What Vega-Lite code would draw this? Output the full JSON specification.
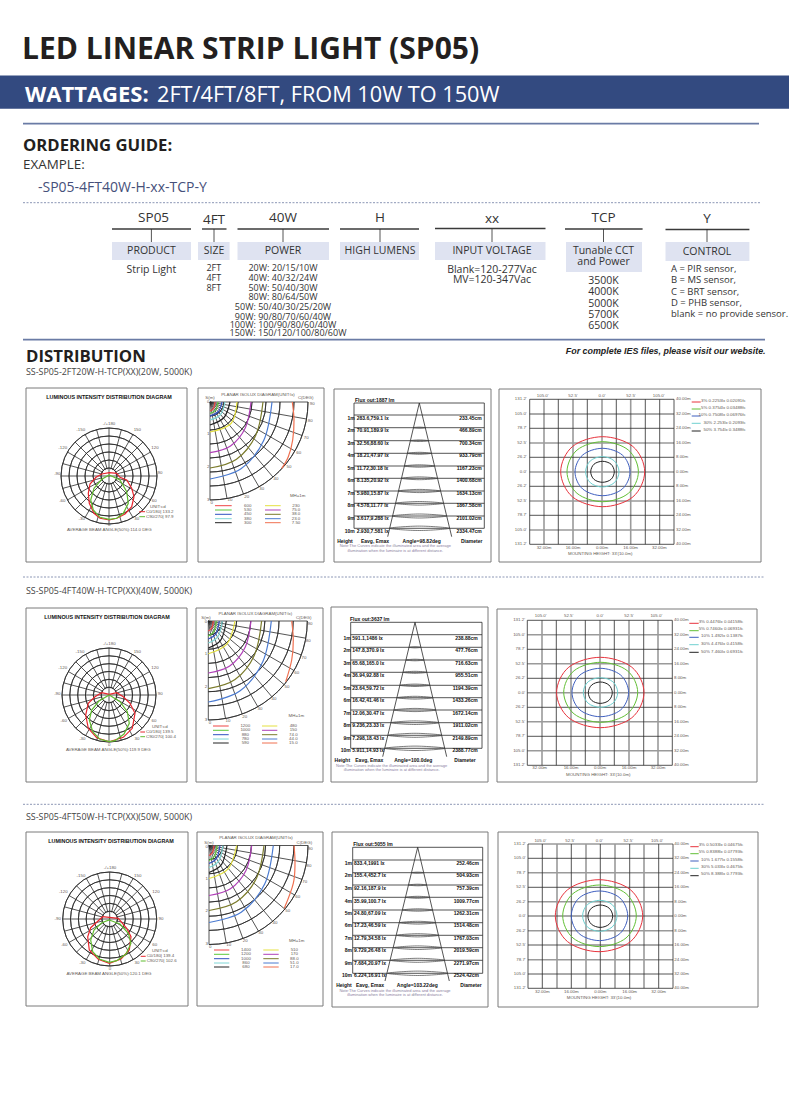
{"$schema":"https://vega.github.io/schema/vega-lite/v6.json","width":789,"height":1120,"autosize":{"type":"fit","contains":"padding"},"padding":0,"background":"white","config":{"view":{"stroke":null}},
"encoding":{"x":{"field":"x","type":"quantitative","axis":null,"scale":{"domain":[0,789],"nice":false,"zero":false}},"y":{"field":"y","type":"quantitative","axis":null,"scale":{"domain":[1120,0],"nice":false,"zero":false}}},
"layer":[
{"data":{"values":[{"x":0,"y":75.5,"x2":789,"y2":108.7}]},"mark":{"type":"rect","fill":"#334a80"},"encoding":{"x2":{"field":"x2"},"y2":{"field":"y2"}}},
{"data":{"values":[{"x":112,"y":242,"x2":191,"y2":260},{"x":198,"y":242,"x2":229.6,"y2":260},{"x":237.5,"y":242,"x2":329,"y2":260},{"x":340,"y":242,"x2":419,"y2":260},{"x":435,"y":242,"x2":545.5,"y2":260},{"x":566,"y":242,"x2":642,"y2":272},{"x":665.5,"y":242,"x2":749.4,"y2":261}]},"mark":{"type":"rect","fill":"#dfe3f1"},"encoding":{"x2":{"field":"x2"},"y2":{"field":"y2"}}},
{"data":{"values":[{"x":26,"y":388,"x2":187,"y2":562},{"x":198,"y":388,"x2":324,"y2":562},{"x":334,"y":389,"x2":491,"y2":562},{"x":499,"y":389,"x2":761,"y2":562},{"x":26,"y":608,"x2":187,"y2":782},{"x":196,"y":608,"x2":323,"y2":782},{"x":331,"y":607,"x2":488,"y2":782},{"x":497,"y":609,"x2":757,"y2":782},{"x":26,"y":832,"x2":188,"y2":1006},{"x":197,"y":832,"x2":323,"y2":1006},{"x":332,"y":832,"x2":488,"y2":1007},{"x":498,"y":832,"x2":758,"y2":1007}]},"mark":{"type":"rect","fill":"transparent","stroke":"#7a7a7a","strokeWidth":1},"encoding":{"x2":{"field":"x2"},"y2":{"field":"y2"}}},
{"data":{"values":[{"x":23,"y":123.7,"x2":759},{"x":23,"y":339.7,"x2":765}]},"mark":{"type":"rule","stroke":"#6a7ba5","strokeWidth":1.8},"encoding":{"x2":{"field":"x2"}}},
{"data":{"values":[{"x":23,"y":202.7,"x2":760},{"x":23,"y":577,"x2":765},{"x":23,"y":804.3,"x2":765}]},"mark":{"type":"rule","stroke":"#8c97b5","strokeWidth":1,"strokeDash":[2,1.5]},"encoding":{"x2":{"field":"x2"}}},
{"data":{"values":[{"x":112,"y":229,"x2":191},{"x":202,"y":229,"x2":226.5},{"x":237.5,"y":229,"x2":329},{"x":340,"y":229,"x2":419},{"x":435,"y":228.5,"x2":545.5},{"x":565,"y":229,"x2":642.6},{"x":665.5,"y":229.5,"x2":749.4}]},"mark":{"type":"rule","stroke":"#3a3a3a","strokeWidth":1.4},"encoding":{"x2":{"field":"x2"}}},
{"data":{"values":[{"x":544,"y":399.3,"x2":544,"y2":544.3},{"x":573,"y":399.3,"x2":573,"y2":544.3},{"x":602,"y":399.3,"x2":602,"y2":544.3},{"x":630.7,"y":399.3,"x2":630.7,"y2":544.3},{"x":529.7,"y":443,"x2":674,"y2":443},{"x":529.7,"y":472,"x2":674,"y2":472},{"x":529.7,"y":501,"x2":674,"y2":501},{"x":529.7,"y":530,"x2":674,"y2":530},{"x":542,"y":620.3,"x2":542,"y2":765.3},{"x":571,"y":620.3,"x2":571,"y2":765.3},{"x":600,"y":620.3,"x2":600,"y2":765.3},{"x":629,"y":620.3,"x2":629,"y2":765.3},{"x":658,"y":620.3,"x2":658,"y2":765.3},{"x":527.3,"y":634.7,"x2":672.3,"y2":634.7},{"x":527.3,"y":663.7,"x2":672.3,"y2":663.7},{"x":527.3,"y":692.7,"x2":672.3,"y2":692.7},{"x":527.3,"y":721.7,"x2":672.3,"y2":721.7},{"x":527.3,"y":750.7,"x2":672.3,"y2":750.7},{"x":557,"y":844,"x2":557,"y2":988.3},{"x":586,"y":844,"x2":586,"y2":988.3},{"x":615,"y":844,"x2":615,"y2":988.3},{"x":644,"y":844,"x2":644,"y2":988.3},{"x":528,"y":844,"x2":673,"y2":844},{"x":528,"y":872.7,"x2":673,"y2":872.7},{"x":528,"y":901.7,"x2":673,"y2":901.7},{"x":528,"y":930.7,"x2":673,"y2":930.7},{"x":528,"y":959.7,"x2":673,"y2":959.7}]},"mark":{"type":"rule","stroke":"#9a9a9a","strokeWidth":1.6},"encoding":{"x2":{"field":"x2"},"y2":{"field":"y2"}}},
{"data":{"values":[
{"x":151.4,"y":229,"x2":151.4,"y2":242},{"x":214,"y":229,"x2":214,"y2":242},{"x":283,"y":229,"x2":283,"y2":242},{"x":380,"y":229,"x2":380,"y2":242},{"x":492,"y":229,"x2":492,"y2":242},{"x":603.5,"y":229,"x2":603.5,"y2":242},{"x":707,"y":229,"x2":707,"y2":242},
{"x":96.6,"y":429.6,"x2":121.4,"y2":522.4},{"x":85,"y":434.4,"x2":133,"y2":517.6},{"x":75.1,"y":442.1,"x2":142.9,"y2":509.9},{"x":67.4,"y":452,"x2":150.6,"y2":500},{"x":62.6,"y":463.6,"x2":155.4,"y2":488.4},{"x":121.4,"y":429.6,"x2":96.6,"y2":522.4},{"x":133,"y":434.4,"x2":85,"y2":517.6},{"x":142.9,"y":442.1,"x2":75.1,"y2":509.9},{"x":150.6,"y":452,"x2":67.4,"y2":500},{"x":155.4,"y":463.6,"x2":62.6,"y2":488.4},
{"x":96.8,"y":649.6,"x2":121.2,"y2":740.4},{"x":85.5,"y":654.3,"x2":132.5,"y2":735.7},{"x":75.8,"y":661.8,"x2":142.2,"y2":728.2},{"x":68.3,"y":671.5,"x2":149.7,"y2":718.5},{"x":63.6,"y":682.8,"x2":154.4,"y2":707.2},{"x":121.2,"y":649.6,"x2":96.8,"y2":740.4},{"x":132.5,"y":654.3,"x2":85.5,"y2":735.7},{"x":142.2,"y":661.8,"x2":75.8,"y2":728.2},{"x":149.7,"y":671.5,"x2":68.3,"y2":718.5},{"x":154.4,"y":682.8,"x2":63.6,"y2":707.2},
{"x":97.5,"y":873.6,"x2":121.9,"y2":964.4},{"x":86.2,"y":878.3,"x2":133.2,"y2":959.7},{"x":76.5,"y":885.8,"x2":142.9,"y2":952.2},{"x":69,"y":895.5,"x2":150.4,"y2":942.5},{"x":64.3,"y":906.8,"x2":155.1,"y2":931.2},{"x":121.9,"y":873.6,"x2":97.5,"y2":964.4},{"x":133.2,"y":878.3,"x2":86.2,"y2":959.7},{"x":142.9,"y":885.8,"x2":76.5,"y2":952.2},{"x":150.4,"y":895.5,"x2":69,"y2":942.5},{"x":155.1,"y":906.8,"x2":64.3,"y2":931.2}
]},"mark":{"type":"rule","stroke":"#2a2a2a","strokeWidth":0.8},"encoding":{"x2":{"field":"x2"},"y2":{"field":"y2"}}},
{"data":{"values":[{"x":109,"y":476},{"x":109,"y":695},{"x":109.7,"y":919}]},"mark":{"type":"point","filled":true,"fill":"white","stroke":null,"opacity":1,"size":200},"encoding":{}},
{"data":{"values":[
{"x":109,"y":476,"r":8},{"x":109,"y":476,"r":16},{"x":109,"y":476,"r":24},{"x":109,"y":476,"r":32},{"x":109,"y":476,"r":40},{"x":109,"y":476,"r":48},
{"x":109,"y":695,"r":7.8},{"x":109,"y":695,"r":15.7},{"x":109,"y":695,"r":23.5},{"x":109,"y":695,"r":31.3},{"x":109,"y":695,"r":39.2},{"x":109,"y":695,"r":47},
{"x":109.7,"y":919,"r":7.8},{"x":109.7,"y":919,"r":15.7},{"x":109.7,"y":919,"r":23.5},{"x":109.7,"y":919,"r":31.3},{"x":109.7,"y":919,"r":39.2},{"x":109.7,"y":919,"r":47}
]},"mark":{"type":"arc","theta":0,"theta2":6.2832,"fill":"transparent","stroke":"#2a2a2a","strokeWidth":0.8},"encoding":{"radius":{"field":"r","type":"quantitative","scale":{"type":"linear","domain":[0,100],"range":[0,100]}},"radius2":{"field":"r"}}},
{"data":{"values":[
{"x":210,"y":402,"r":14},{"x":210,"y":402,"r":28},{"x":210,"y":402,"r":42},{"x":210,"y":402,"r":56},{"x":210,"y":402,"r":70},{"x":210,"y":402,"r":84},{"x":210,"y":402,"r":98},
{"x":208.3,"y":621,"r":14.1},{"x":208.3,"y":621,"r":28.3},{"x":208.3,"y":621,"r":42.4},{"x":208.3,"y":621,"r":56.6},{"x":208.3,"y":621,"r":70.7},{"x":208.3,"y":621,"r":84.9},{"x":208.3,"y":621,"r":99},
{"x":209,"y":845.5,"r":14.1},{"x":209,"y":845.5,"r":28.3},{"x":209,"y":845.5,"r":42.4},{"x":209,"y":845.5,"r":56.6},{"x":209,"y":845.5,"r":70.7},{"x":209,"y":845.5,"r":84.9},{"x":209,"y":845.5,"r":99}
]},"mark":{"type":"arc","theta":1.5708,"theta2":3.1416,"fill":"transparent","stroke":"#2a2a2a","strokeWidth":0.8},"encoding":{"radius":{"field":"r","type":"quantitative","scale":{"type":"linear","domain":[0,100],"range":[0,100]}},"radius2":{"field":"r"}}},
{"data":{"values":[
{"x":61,"y":476,"x2":157,"y2":476},{"x":109,"y":428,"x2":109,"y2":524},{"x":62,"y":695,"x2":156,"y2":695},{"x":109,"y":648,"x2":109,"y2":742},{"x":62.7,"y":919,"x2":156.7,"y2":919},{"x":109.7,"y":872,"x2":109.7,"y2":966},
{"x":210,"y":402,"x2":210,"y2":500},{"x":210,"y":402,"x2":227,"y2":498.5},{"x":210,"y":402,"x2":243.5,"y2":494.1},{"x":210,"y":402,"x2":259,"y2":486.9},{"x":210,"y":402,"x2":273,"y2":477.1},{"x":210,"y":402,"x2":285.1,"y2":465},{"x":210,"y":402,"x2":294.9,"y2":451},{"x":210,"y":402,"x2":302.1,"y2":435.5},{"x":210,"y":402,"x2":306.5,"y2":419},{"x":210,"y":402,"x2":308,"y2":402},
{"x":208.3,"y":621,"x2":208.3,"y2":720},{"x":208.3,"y":621,"x2":225.5,"y2":718.5},{"x":208.3,"y":621,"x2":242.2,"y2":714},{"x":208.3,"y":621,"x2":257.8,"y2":706.7},{"x":208.3,"y":621,"x2":271.9,"y2":696.8},{"x":208.3,"y":621,"x2":284.1,"y2":684.6},{"x":208.3,"y":621,"x2":294,"y2":670.5},{"x":208.3,"y":621,"x2":301.2,"y2":654.9},{"x":208.3,"y":621,"x2":305.8,"y2":638.2},{"x":208.3,"y":621,"x2":307.3,"y2":621},
{"x":209,"y":845.5,"x2":209,"y2":944.5},{"x":209,"y":845.5,"x2":226.2,"y2":943},{"x":209,"y":845.5,"x2":242.9,"y2":938.5},{"x":209,"y":845.5,"x2":258.5,"y2":931.2},{"x":209,"y":845.5,"x2":272.6,"y2":921.3},{"x":209,"y":845.5,"x2":284.8,"y2":909.1},{"x":209,"y":845.5,"x2":294.7,"y2":895},{"x":209,"y":845.5,"x2":302,"y2":879.4},{"x":209,"y":845.5,"x2":306.5,"y2":862.7},{"x":209,"y":845.5,"x2":308,"y2":845.5},
{"x":354,"y":403,"x2":484.3,"y2":403},{"x":354,"y":415,"x2":484.3,"y2":415},{"x":354,"y":427.7,"x2":484.3,"y2":427.7},{"x":354,"y":440.7,"x2":484.3,"y2":440.7},{"x":354,"y":453.3,"x2":484.3,"y2":453.3},{"x":354,"y":466,"x2":484.3,"y2":466},{"x":354,"y":478.3,"x2":484.3,"y2":478.3},{"x":354,"y":491,"x2":484.3,"y2":491},{"x":354,"y":503.3,"x2":484.3,"y2":503.3},{"x":354,"y":516,"x2":484.3,"y2":516},{"x":354,"y":528.3,"x2":484.3,"y2":528.3},{"x":354,"y":403,"x2":354,"y2":528.3},{"x":484.3,"y":403,"x2":484.3,"y2":528.3},{"x":419.3,"y":403,"x2":387.7,"y2":536.7},{"x":419.3,"y":403,"x2":451.7,"y2":536.7},
{"x":350.7,"y":622.3,"x2":482,"y2":622.3},{"x":350.7,"y":634.7,"x2":482,"y2":634.7},{"x":350.7,"y":647.3,"x2":482,"y2":647.3},{"x":350.7,"y":660,"x2":482,"y2":660},{"x":350.7,"y":672.3,"x2":482,"y2":672.3},{"x":350.7,"y":685.3,"x2":482,"y2":685.3},{"x":350.7,"y":697.7,"x2":482,"y2":697.7},{"x":350.7,"y":710,"x2":482,"y2":710},{"x":350.7,"y":722.7,"x2":482,"y2":722.7},{"x":350.7,"y":735.3,"x2":482,"y2":735.3},{"x":350.7,"y":748.3,"x2":482,"y2":748.3},{"x":350.7,"y":622.3,"x2":350.7,"y2":748.3},{"x":482,"y":622.3,"x2":482,"y2":748.3},{"x":415,"y":622.3,"x2":382.7,"y2":756.7},{"x":415,"y":622.3,"x2":446.7,"y2":756.7},
{"x":352.7,"y":847.3,"x2":482.7,"y2":847.3},{"x":352.7,"y":860,"x2":482.7,"y2":860},{"x":352.7,"y":872.7,"x2":482.7,"y2":872.7},{"x":352.7,"y":885,"x2":482.7,"y2":885},{"x":352.7,"y":897.3,"x2":482.7,"y2":897.3},{"x":352.7,"y":910,"x2":482.7,"y2":910},{"x":352.7,"y":922.7,"x2":482.7,"y2":922.7},{"x":352.7,"y":935.3,"x2":482.7,"y2":935.3},{"x":352.7,"y":947.7,"x2":482.7,"y2":947.7},{"x":352.7,"y":960.3,"x2":482.7,"y2":960.3},{"x":352.7,"y":973.3,"x2":482.7,"y2":973.3},{"x":352.7,"y":847.3,"x2":352.7,"y2":973.3},{"x":482.7,"y":847.3,"x2":482.7,"y2":973.3},{"x":417.7,"y":847.3,"x2":385,"y2":981},{"x":417.7,"y":847.3,"x2":449.3,"y2":981},
{"x":529.7,"y":399.3,"x2":529.7,"y2":544.3},{"x":558.3,"y":399.3,"x2":558.3,"y2":544.3},{"x":587.3,"y":399.3,"x2":587.3,"y2":544.3},{"x":616.3,"y":399.3,"x2":616.3,"y2":544.3},{"x":645.3,"y":399.3,"x2":645.3,"y2":544.3},{"x":659.7,"y":399.3,"x2":659.7,"y2":544.3},{"x":674,"y":399.3,"x2":674,"y2":544.3},{"x":529.7,"y":399.3,"x2":674,"y2":399.3},{"x":529.7,"y":414,"x2":674,"y2":414},{"x":529.7,"y":428.3,"x2":674,"y2":428.3},{"x":529.7,"y":457.3,"x2":674,"y2":457.3},{"x":529.7,"y":486.3,"x2":674,"y2":486.3},{"x":529.7,"y":515.3,"x2":674,"y2":515.3},{"x":529.7,"y":544.3,"x2":674,"y2":544.3},
{"x":527.3,"y":620.3,"x2":527.3,"y2":765.3},{"x":556.3,"y":620.3,"x2":556.3,"y2":765.3},{"x":585.3,"y":620.3,"x2":585.3,"y2":765.3},{"x":614.3,"y":620.3,"x2":614.3,"y2":765.3},{"x":643.7,"y":620.3,"x2":643.7,"y2":765.3},{"x":672.3,"y":620.3,"x2":672.3,"y2":765.3},{"x":527.3,"y":620.3,"x2":672.3,"y2":620.3},{"x":527.3,"y":649.3,"x2":672.3,"y2":649.3},{"x":527.3,"y":678.3,"x2":672.3,"y2":678.3},{"x":527.3,"y":707.3,"x2":672.3,"y2":707.3},{"x":527.3,"y":736.3,"x2":672.3,"y2":736.3},{"x":527.3,"y":765.3,"x2":672.3,"y2":765.3},
{"x":528,"y":844,"x2":528,"y2":988.3},{"x":542.3,"y":844,"x2":542.3,"y2":988.3},{"x":571.3,"y":844,"x2":571.3,"y2":988.3},{"x":600.3,"y":844,"x2":600.3,"y2":988.3},{"x":629.7,"y":844,"x2":629.7,"y2":988.3},{"x":658.7,"y":844,"x2":658.7,"y2":988.3},{"x":673,"y":844,"x2":673,"y2":988.3},{"x":528,"y":858.3,"x2":673,"y2":858.3},{"x":528,"y":887.3,"x2":673,"y2":887.3},{"x":528,"y":916,"x2":673,"y2":916},{"x":528,"y":945,"x2":673,"y2":945},{"x":528,"y":974,"x2":673,"y2":974},{"x":528,"y":988.3,"x2":673,"y2":988.3}
]},"mark":{"type":"rule","stroke":"#2a2a2a","strokeWidth":0.8},"encoding":{"x2":{"field":"x2"},"y2":{"field":"y2"}}},
{"data":{"values":[
{"id":"a2","x":413.3,"y":427.7},{"id":"a2","x":419.3,"y":427.1},{"id":"a2","x":425.3,"y":427.7},{"id":"a2","x":419.3,"y":428.3},
{"id":"a3","x":410.3,"y":440.7},{"id":"a3","x":419.3,"y":439.9},{"id":"a3","x":428.3,"y":440.7},{"id":"a3","x":419.3,"y":441.5},
{"id":"a4","x":407.3,"y":453.3},{"id":"a4","x":419.3,"y":452.3},{"id":"a4","x":431.3,"y":453.3},{"id":"a4","x":419.3,"y":454.3},
{"id":"a5","x":404.3,"y":466},{"id":"a5","x":419.3,"y":464.8},{"id":"a5","x":434.3,"y":466},{"id":"a5","x":419.3,"y":467.2},
{"id":"a6","x":401.3,"y":478.3},{"id":"a6","x":419.3,"y":476.9},{"id":"a6","x":437.3,"y":478.3},{"id":"a6","x":419.3,"y":479.7},
{"id":"a7","x":398.3,"y":491},{"id":"a7","x":419.3,"y":489.4},{"id":"a7","x":440.3,"y":491},{"id":"a7","x":419.3,"y":492.6},
{"id":"a8","x":395.3,"y":503.3},{"id":"a8","x":419.3,"y":501.5},{"id":"a8","x":443.3,"y":503.3},{"id":"a8","x":419.3,"y":505.1},
{"id":"a9","x":392.3,"y":516},{"id":"a9","x":419.3,"y":514},{"id":"a9","x":446.3,"y":516},{"id":"a9","x":419.3,"y":518},
{"id":"a10","x":389.3,"y":528.3},{"id":"a10","x":419.3,"y":526.1},{"id":"a10","x":449.3,"y":528.3},{"id":"a10","x":419.3,"y":530.5},
{"id":"b2","x":409,"y":647.3},{"id":"b2","x":415,"y":646.7},{"id":"b2","x":421,"y":647.3},{"id":"b2","x":415,"y":647.9},
{"id":"b3","x":406,"y":660},{"id":"b3","x":415,"y":659.2},{"id":"b3","x":424,"y":660},{"id":"b3","x":415,"y":660.8},
{"id":"b4","x":403,"y":672.3},{"id":"b4","x":415,"y":671.3},{"id":"b4","x":427,"y":672.3},{"id":"b4","x":415,"y":673.3},
{"id":"b5","x":400,"y":685.3},{"id":"b5","x":415,"y":684.1},{"id":"b5","x":430,"y":685.3},{"id":"b5","x":415,"y":686.5},
{"id":"b6","x":397,"y":697.7},{"id":"b6","x":415,"y":696.3},{"id":"b6","x":433,"y":697.7},{"id":"b6","x":415,"y":699.1},
{"id":"b7","x":394,"y":710},{"id":"b7","x":415,"y":708.4},{"id":"b7","x":436,"y":710},{"id":"b7","x":415,"y":711.6},
{"id":"b8","x":391,"y":722.7},{"id":"b8","x":415,"y":720.9},{"id":"b8","x":439,"y":722.7},{"id":"b8","x":415,"y":724.5},
{"id":"b9","x":388,"y":735.3},{"id":"b9","x":415,"y":733.3},{"id":"b9","x":442,"y":735.3},{"id":"b9","x":415,"y":737.3},
{"id":"b10","x":385,"y":748.3},{"id":"b10","x":415,"y":746.1},{"id":"b10","x":445,"y":748.3},{"id":"b10","x":415,"y":750.5},
{"id":"c2","x":411.7,"y":872.7},{"id":"c2","x":417.7,"y":872.1},{"id":"c2","x":423.7,"y":872.7},{"id":"c2","x":417.7,"y":873.3},
{"id":"c3","x":408.7,"y":885},{"id":"c3","x":417.7,"y":884.2},{"id":"c3","x":426.7,"y":885},{"id":"c3","x":417.7,"y":885.8},
{"id":"c4","x":405.7,"y":897.3},{"id":"c4","x":417.7,"y":896.3},{"id":"c4","x":429.7,"y":897.3},{"id":"c4","x":417.7,"y":898.3},
{"id":"c5","x":402.7,"y":910},{"id":"c5","x":417.7,"y":908.8},{"id":"c5","x":432.7,"y":910},{"id":"c5","x":417.7,"y":911.2},
{"id":"c6","x":399.7,"y":922.7},{"id":"c6","x":417.7,"y":921.3},{"id":"c6","x":435.7,"y":922.7},{"id":"c6","x":417.7,"y":924.1},
{"id":"c7","x":396.7,"y":935.3},{"id":"c7","x":417.7,"y":933.7},{"id":"c7","x":438.7,"y":935.3},{"id":"c7","x":417.7,"y":936.9},
{"id":"c8","x":393.7,"y":947.7},{"id":"c8","x":417.7,"y":945.9},{"id":"c8","x":441.7,"y":947.7},{"id":"c8","x":417.7,"y":949.5},
{"id":"c9","x":390.7,"y":960.3},{"id":"c9","x":417.7,"y":958.3},{"id":"c9","x":444.7,"y":960.3},{"id":"c9","x":417.7,"y":962.3},
{"id":"c10","x":387.7,"y":973.3},{"id":"c10","x":417.7,"y":971.1},{"id":"c10","x":447.7,"y":973.3},{"id":"c10","x":417.7,"y":975.5}
]},"mark":{"type":"line","interpolate":"cardinal-closed","stroke":"#444444","strokeWidth":0.7},"encoding":{"detail":{"field":"id"},"order":{"value":null}}},
{"data":{"values":[
{"id":"p1r","s":"C0/180","x":109.3,"y":472.7},{"id":"p1r","s":"C0/180","x":116.7,"y":473.3},{"id":"p1r","s":"C0/180","x":120,"y":477.3},{"id":"p1r","s":"C0/180","x":126.7,"y":480},{"id":"p1r","s":"C0/180","x":131.7,"y":488.3},{"id":"p1r","s":"C0/180","x":134,"y":496.7},{"id":"p1r","s":"C0/180","x":131.7,"y":506.7},{"id":"p1r","s":"C0/180","x":125,"y":514},{"id":"p1r","s":"C0/180","x":116.7,"y":518.3},{"id":"p1r","s":"C0/180","x":109.3,"y":520},{"id":"p1r","s":"C0/180","x":100,"y":518.3},{"id":"p1r","s":"C0/180","x":94,"y":513.3},{"id":"p1r","s":"C0/180","x":89.3,"y":503.3},{"id":"p1r","s":"C0/180","x":88.3,"y":493.3},{"id":"p1r","s":"C0/180","x":90,"y":484},{"id":"p1r","s":"C0/180","x":96,"y":477.3},{"id":"p1r","s":"C0/180","x":101.7,"y":474},
{"id":"p1g","s":"C90/270","x":109.3,"y":475},{"id":"p1g","s":"C90/270","x":120,"y":480},{"id":"p1g","s":"C90/270","x":126.7,"y":491.7},{"id":"p1g","s":"C90/270","x":128.3,"y":503.3},{"id":"p1g","s":"C90/270","x":123.3,"y":513.3},{"id":"p1g","s":"C90/270","x":116.7,"y":518.3},{"id":"p1g","s":"C90/270","x":109.3,"y":519.3},{"id":"p1g","s":"C90/270","x":100,"y":517.3},{"id":"p1g","s":"C90/270","x":93.3,"y":510},{"id":"p1g","s":"C90/270","x":90.7,"y":500},{"id":"p1g","s":"C90/270","x":94,"y":488.3},{"id":"p1g","s":"C90/270","x":101.7,"y":479.3},
{"id":"p2r","s":"C0/180","x":109.3,"y":694.3},{"id":"p2r","s":"C0/180","x":116.7,"y":692.7},{"id":"p2r","s":"C0/180","x":123.3,"y":696.7},{"id":"p2r","s":"C0/180","x":130,"y":703.3},{"id":"p2r","s":"C0/180","x":135,"y":713.3},{"id":"p2r","s":"C0/180","x":132.3,"y":728.3},{"id":"p2r","s":"C0/180","x":123.3,"y":737.3},{"id":"p2r","s":"C0/180","x":109.3,"y":741.7},{"id":"p2r","s":"C0/180","x":96.7,"y":737.7},{"id":"p2r","s":"C0/180","x":88.3,"y":728.3},{"id":"p2r","s":"C0/180","x":85.7,"y":715},{"id":"p2r","s":"C0/180","x":88.3,"y":703.3},{"id":"p2r","s":"C0/180","x":95,"y":696.7},{"id":"p2r","s":"C0/180","x":101.7,"y":692.7},
{"id":"p2g","s":"C90/270","x":109.3,"y":695},{"id":"p2g","s":"C90/270","x":120,"y":701.7},{"id":"p2g","s":"C90/270","x":127.3,"y":711.7},{"id":"p2g","s":"C90/270","x":129.3,"y":723.3},{"id":"p2g","s":"C90/270","x":124,"y":734},{"id":"p2g","s":"C90/270","x":115,"y":740.7},{"id":"p2g","s":"C90/270","x":109.3,"y":741.7},{"id":"p2g","s":"C90/270","x":100,"y":739.3},{"id":"p2g","s":"C90/270","x":92.7,"y":731.7},{"id":"p2g","s":"C90/270","x":89.3,"y":720},{"id":"p2g","s":"C90/270","x":91.7,"y":710},{"id":"p2g","s":"C90/270","x":99.3,"y":700.7},
{"id":"p3r","s":"C0/180","x":109.3,"y":917.3},{"id":"p3r","s":"C0/180","x":118.3,"y":918.3},{"id":"p3r","s":"C0/180","x":126.7,"y":928.3},{"id":"p3r","s":"C0/180","x":131,"y":936.7},{"id":"p3r","s":"C0/180","x":129.3,"y":950},{"id":"p3r","s":"C0/180","x":121,"y":959},{"id":"p3r","s":"C0/180","x":109.3,"y":963.3},{"id":"p3r","s":"C0/180","x":98.3,"y":959.3},{"id":"p3r","s":"C0/180","x":89.3,"y":950},{"id":"p3r","s":"C0/180","x":87.7,"y":936.7},{"id":"p3r","s":"C0/180","x":90.7,"y":927.7},{"id":"p3r","s":"C0/180","x":98.3,"y":920.7},{"id":"p3r","s":"C0/180","x":102.7,"y":916.7},
{"id":"p3g","s":"C90/270","x":109.3,"y":920},{"id":"p3g","s":"C90/270","x":120,"y":924},{"id":"p3g","s":"C90/270","x":128.3,"y":933.3},{"id":"p3g","s":"C90/270","x":131,"y":943.3},{"id":"p3g","s":"C90/270","x":126,"y":954},{"id":"p3g","s":"C90/270","x":116.7,"y":960.7},{"id":"p3g","s":"C90/270","x":109.3,"y":962.3},{"id":"p3g","s":"C90/270","x":100,"y":959.3},{"id":"p3g","s":"C90/270","x":92.7,"y":951.7},{"id":"p3g","s":"C90/270","x":90.7,"y":940},{"id":"p3g","s":"C90/270","x":94,"y":930},{"id":"p3g","s":"C90/270","x":101.7,"y":922.7}
]},"mark":{"type":"line","interpolate":"linear-closed","strokeWidth":1.2},"encoding":{"detail":{"field":"id"},"order":{"value":null},"color":{"field":"s","type":"nominal","legend":null,"scale":{"domain":["C0/180","C90/270","3%","5%","10%","30%","50%","L1","L2","L3","L4","L5","L6","L7","L8","L9","L10"],"range":["#e8252d","#5fbb2e","#e8333d","#62bf35","#3f5fbf","#6fd0d0","#222222","#ef4444","#5cc83a","#2f50c0","#7fd6d6","#222222","#e4e040","#b040b8","#7a7a2a","#4a7ad0","#f07050"]}}}},
{"data":{"values":[
{"id":"i1a","s":"3%","x":644.7,"y":471.7},{"id":"i1a","s":"3%","x":632.9,"y":496.9},{"id":"i1a","s":"3%","x":602.7,"y":506.7},{"id":"i1a","s":"3%","x":572.5,"y":496.9},{"id":"i1a","s":"3%","x":560.7,"y":471.7},{"id":"i1a","s":"3%","x":572.5,"y":446.5},{"id":"i1a","s":"3%","x":602.7,"y":436.7},{"id":"i1a","s":"3%","x":632.9,"y":446.5},
{"id":"i1b","s":"5%","x":638.4,"y":471.7},{"id":"i1b","s":"5%","x":628.4,"y":493.3},{"id":"i1b","s":"5%","x":602.7,"y":501.7},{"id":"i1b","s":"5%","x":577,"y":493.3},{"id":"i1b","s":"5%","x":567,"y":471.7},{"id":"i1b","s":"5%","x":577,"y":450.1},{"id":"i1b","s":"5%","x":602.7,"y":441.7},{"id":"i1b","s":"5%","x":628.4,"y":450.1},
{"id":"i1c","s":"10%","x":630,"y":472},{"id":"i1c","s":"10%","x":622.3,"y":489},{"id":"i1c","s":"10%","x":602.5,"y":495.7},{"id":"i1c","s":"10%","x":582.7,"y":489},{"id":"i1c","s":"10%","x":575,"y":472},{"id":"i1c","s":"10%","x":582.7,"y":455},{"id":"i1c","s":"10%","x":602.5,"y":448.3},{"id":"i1c","s":"10%","x":622.3,"y":455},
{"id":"i1d","s":"30%","x":619,"y":471.8},{"id":"i1d","s":"30%","x":614.3,"y":482.7},{"id":"i1d","s":"30%","x":602.3,"y":487},{"id":"i1d","s":"30%","x":590.3,"y":482.7},{"id":"i1d","s":"30%","x":585.6,"y":471.8},{"id":"i1d","s":"30%","x":590.3,"y":460.9},{"id":"i1d","s":"30%","x":602.3,"y":456.6},{"id":"i1d","s":"30%","x":614.3,"y":460.9},
{"id":"i1e","s":"50%","x":614.3,"y":471.8},{"id":"i1e","s":"50%","x":611,"y":479.4},{"id":"i1e","s":"50%","x":602.5,"y":482.3},{"id":"i1e","s":"50%","x":594,"y":479.4},{"id":"i1e","s":"50%","x":590.7,"y":471.8},{"id":"i1e","s":"50%","x":594,"y":464.2},{"id":"i1e","s":"50%","x":602.5,"y":461.3},{"id":"i1e","s":"50%","x":611,"y":464.2},
{"id":"i2a","s":"3%","x":644,"y":692.5},{"id":"i2a","s":"3%","x":631.8,"y":717.8},{"id":"i2a","s":"3%","x":600.3,"y":727.7},{"id":"i2a","s":"3%","x":568.8,"y":717.8},{"id":"i2a","s":"3%","x":556.6,"y":692.5},{"id":"i2a","s":"3%","x":568.8,"y":667.2},{"id":"i2a","s":"3%","x":600.3,"y":657.3},{"id":"i2a","s":"3%","x":631.8,"y":667.2},
{"id":"i2b","s":"5%","x":637.7,"y":692.3},{"id":"i2b","s":"5%","x":627.3,"y":713.9},{"id":"i2b","s":"5%","x":600.7,"y":722.3},{"id":"i2b","s":"5%","x":574.1,"y":713.9},{"id":"i2b","s":"5%","x":563.7,"y":692.3},{"id":"i2b","s":"5%","x":574.1,"y":670.7},{"id":"i2b","s":"5%","x":600.7,"y":662.3},{"id":"i2b","s":"5%","x":627.3,"y":670.7},
{"id":"i2c","s":"10%","x":628.6,"y":692.5},{"id":"i2c","s":"10%","x":620.7,"y":709.9},{"id":"i2c","s":"10%","x":600.3,"y":716.7},{"id":"i2c","s":"10%","x":579.9,"y":709.9},{"id":"i2c","s":"10%","x":572,"y":692.5},{"id":"i2c","s":"10%","x":579.9,"y":675.1},{"id":"i2c","s":"10%","x":600.3,"y":668.3},{"id":"i2c","s":"10%","x":620.7,"y":675.1},
{"id":"i2d","s":"30%","x":617.7,"y":692.5},{"id":"i2d","s":"30%","x":612.9,"y":703.2},{"id":"i2d","s":"30%","x":600.5,"y":707.3},{"id":"i2d","s":"30%","x":588.1,"y":703.2},{"id":"i2d","s":"30%","x":583.3,"y":692.5},{"id":"i2d","s":"30%","x":588.1,"y":681.8},{"id":"i2d","s":"30%","x":600.5,"y":677.7},{"id":"i2d","s":"30%","x":612.9,"y":681.8},
{"id":"i2e","s":"50%","x":612.3,"y":692.7},{"id":"i2e","s":"50%","x":608.9,"y":700.4},{"id":"i2e","s":"50%","x":600.3,"y":703.4},{"id":"i2e","s":"50%","x":591.7,"y":700.4},{"id":"i2e","s":"50%","x":588.3,"y":692.7},{"id":"i2e","s":"50%","x":591.7,"y":685},{"id":"i2e","s":"50%","x":600.3,"y":682},{"id":"i2e","s":"50%","x":608.9,"y":685},
{"id":"i3a","s":"3%","x":642.7,"y":915.7},{"id":"i3a","s":"3%","x":630.5,"y":941.6},{"id":"i3a","s":"3%","x":599,"y":951.7},{"id":"i3a","s":"3%","x":567.5,"y":941.6},{"id":"i3a","s":"3%","x":555.3,"y":915.7},{"id":"i3a","s":"3%","x":567.5,"y":889.8},{"id":"i3a","s":"3%","x":599,"y":879.7},{"id":"i3a","s":"3%","x":630.5,"y":889.8},
{"id":"i3b","s":"5%","x":636.3,"y":915.8},{"id":"i3b","s":"5%","x":626,"y":938},{"id":"i3b","s":"5%","x":599.5,"y":946.6},{"id":"i3b","s":"5%","x":573,"y":938},{"id":"i3b","s":"5%","x":562.7,"y":915.8},{"id":"i3b","s":"5%","x":573,"y":893.6},{"id":"i3b","s":"5%","x":599.5,"y":885},{"id":"i3b","s":"5%","x":626,"y":893.6},
{"id":"i3c","s":"10%","x":627.7,"y":915.8},{"id":"i3c","s":"10%","x":619.8,"y":933.7},{"id":"i3c","s":"10%","x":599.5,"y":940.6},{"id":"i3c","s":"10%","x":579.2,"y":933.7},{"id":"i3c","s":"10%","x":571.3,"y":915.8},{"id":"i3c","s":"10%","x":579.2,"y":897.9},{"id":"i3c","s":"10%","x":599.5,"y":891},{"id":"i3c","s":"10%","x":619.8,"y":897.9},
{"id":"i3d","s":"30%","x":617,"y":915.8},{"id":"i3d","s":"30%","x":612.2,"y":927},{"id":"i3d","s":"30%","x":599.8,"y":931.3},{"id":"i3d","s":"30%","x":587.4,"y":927},{"id":"i3d","s":"30%","x":582.6,"y":915.8},{"id":"i3d","s":"30%","x":587.4,"y":904.6},{"id":"i3d","s":"30%","x":599.8,"y":900.3},{"id":"i3d","s":"30%","x":612.2,"y":904.6},
{"id":"i3e","s":"50%","x":612.7,"y":916.2},{"id":"i3e","s":"50%","x":609.2,"y":924.2},{"id":"i3e","s":"50%","x":600.3,"y":927.4},{"id":"i3e","s":"50%","x":591.4,"y":924.2},{"id":"i3e","s":"50%","x":587.9,"y":916.2},{"id":"i3e","s":"50%","x":591.4,"y":908.2},{"id":"i3e","s":"50%","x":600.3,"y":905},{"id":"i3e","s":"50%","x":609.2,"y":908.2}
]},"mark":{"type":"line","interpolate":"cardinal-closed","strokeWidth":1},"encoding":{"detail":{"field":"id"},"order":{"value":null},"color":{"field":"s","type":"nominal","legend":null,"scale":{"domain":["C0/180","C90/270","3%","5%","10%","30%","50%","L1","L2","L3","L4","L5","L6","L7","L8","L9","L10"],"range":["#e8252d","#5fbb2e","#e8333d","#62bf35","#3f5fbf","#6fd0d0","#222222","#ef4444","#5cc83a","#2f50c0","#7fd6d6","#222222","#e4e040","#b040b8","#7a7a2a","#4a7ad0","#f07050"]}}}},
{"data":{"values":[
{"id":"q1a","s":"L1","x":215,"y":402},{"id":"q1a","s":"L1","x":213.5,"y":408.5},{"id":"q1a","s":"L1","x":210,"y":411},
{"id":"q1b","s":"L2","x":218,"y":402},{"id":"q1b","s":"L2","x":215.7,"y":410},{"id":"q1b","s":"L2","x":210,"y":413.5},
{"id":"q1c","s":"L3","x":222,"y":402},{"id":"q1c","s":"L3","x":218.5,"y":411.5},{"id":"q1c","s":"L3","x":210,"y":416},
{"id":"q1d","s":"L4","x":225,"y":402},{"id":"q1d","s":"L4","x":220.6,"y":414.5},{"id":"q1d","s":"L4","x":210,"y":420},
{"id":"q1e","s":"L5","x":230,"y":402},{"id":"q1e","s":"L5","x":224,"y":417.5},{"id":"q1e","s":"L5","x":210,"y":425},
{"id":"q1f","s":"L6","x":237,"y":402},{"id":"q1f","s":"L6","x":231,"y":423.5},{"id":"q1f","s":"L6","x":210,"y":432},
{"id":"q1g","s":"L7","x":251,"y":402},{"id":"q1g","s":"L7","x":245.5,"y":427.4},{"id":"q1g","s":"L7","x":230.5,"y":445.9},{"id":"q1g","s":"L7","x":210,"y":452.7},
{"id":"q1h","s":"L8","x":263,"y":402},{"id":"q1h","s":"L8","x":255.9,"y":435},{"id":"q1h","s":"L8","x":236.5,"y":459.2},{"id":"q1h","s":"L8","x":210,"y":468},
{"id":"q1i","s":"L9","x":272,"y":402},{"id":"q1i","s":"L9","x":263.7,"y":440.5},{"id":"q1i","s":"L9","x":241,"y":468.7},{"id":"q1i","s":"L9","x":210,"y":479},
{"id":"q1j","s":"L10","x":292.3,"y":402},{"id":"q1j","s":"L10","x":294,"y":420},{"id":"q1j","s":"L10","x":292.7,"y":440},{"id":"q1j","s":"L10","x":288.3,"y":456.7},{"id":"q1j","s":"L10","x":281.7,"y":468.3},
{"id":"q2a","s":"L1","x":213.3,"y":621},{"id":"q2a","s":"L1","x":211.8,"y":628},{"id":"q2a","s":"L1","x":208.3,"y":631},
{"id":"q2b","s":"L2","x":216.3,"y":621},{"id":"q2b","s":"L2","x":213.9,"y":631.5},{"id":"q2b","s":"L2","x":208.3,"y":636},
{"id":"q2c","s":"L3","x":219.3,"y":621},{"id":"q2c","s":"L3","x":216,"y":633.6},{"id":"q2c","s":"L3","x":208.3,"y":639},
{"id":"q2d","s":"L4","x":222.3,"y":621},{"id":"q2d","s":"L4","x":218.1,"y":636.4},{"id":"q2d","s":"L4","x":208.3,"y":643},
{"id":"q2e","s":"L5","x":226.3,"y":621},{"id":"q2e","s":"L5","x":220.9,"y":639.9},{"id":"q2e","s":"L5","x":208.3,"y":648},
{"id":"q2f","s":"L6","x":235,"y":621},{"id":"q2f","s":"L6","x":227,"y":643.9},{"id":"q2f","s":"L6","x":208.3,"y":653.7},
{"id":"q2g","s":"L7","x":251,"y":621},{"id":"q2g","s":"L7","x":245.3,"y":647},{"id":"q2g","s":"L7","x":229.7,"y":666},{"id":"q2g","s":"L7","x":208.3,"y":673},
{"id":"q2h","s":"L8","x":261.6,"y":621},{"id":"q2h","s":"L8","x":254.5,"y":654.9},{"id":"q2h","s":"L8","x":235,"y":679.6},{"id":"q2h","s":"L8","x":208.3,"y":688.7},
{"id":"q2i","s":"L9","x":271.3,"y":621},{"id":"q2i","s":"L9","x":262.9,"y":661.5},{"id":"q2i","s":"L9","x":239.8,"y":691.1},{"id":"q2i","s":"L9","x":208.3,"y":702},
{"id":"q2j","s":"L10","x":291.7,"y":621},{"id":"q2j","s":"L10","x":293.3,"y":640},{"id":"q2j","s":"L10","x":291.7,"y":660},{"id":"q2j","s":"L10","x":285.7,"y":681.7},
{"id":"q3a","s":"L1","x":214,"y":845.5},{"id":"q3a","s":"L1","x":212.5,"y":852.5},{"id":"q3a","s":"L1","x":209,"y":855.5},
{"id":"q3b","s":"L2","x":217,"y":845.5},{"id":"q3b","s":"L2","x":214.6,"y":856},{"id":"q3b","s":"L2","x":209,"y":860.5},
{"id":"q3c","s":"L3","x":220,"y":845.5},{"id":"q3c","s":"L3","x":216.7,"y":858.1},{"id":"q3c","s":"L3","x":209,"y":863.5},
{"id":"q3d","s":"L4","x":223,"y":845.5},{"id":"q3d","s":"L4","x":218.8,"y":860.9},{"id":"q3d","s":"L4","x":209,"y":867.5},
{"id":"q3e","s":"L5","x":227,"y":845.5},{"id":"q3e","s":"L5","x":221.6,"y":864.4},{"id":"q3e","s":"L5","x":209,"y":872.5},
{"id":"q3f","s":"L6","x":236.7,"y":845.5},{"id":"q3f","s":"L6","x":228.4,"y":868.6},{"id":"q3f","s":"L6","x":209,"y":878.5},
{"id":"q3g","s":"L7","x":251.7,"y":845.5},{"id":"q3g","s":"L7","x":246,"y":870.5},{"id":"q3g","s":"L7","x":230.4,"y":888.8},{"id":"q3g","s":"L7","x":209,"y":895.5},
{"id":"q3h","s":"L8","x":264,"y":845.5},{"id":"q3h","s":"L8","x":256.6,"y":878},{"id":"q3h","s":"L8","x":236.5,"y":901.8},{"id":"q3h","s":"L8","x":209,"y":910.5},
{"id":"q3i","s":"L9","x":273.3,"y":845.5},{"id":"q3i","s":"L9","x":264.7,"y":884},{"id":"q3i","s":"L9","x":241.2,"y":912.2},{"id":"q3i","s":"L9","x":209,"y":922.5},
{"id":"q3j","s":"L10","x":294,"y":845.5},{"id":"q3j","s":"L10","x":295,"y":863.3},{"id":"q3j","s":"L10","x":293.3,"y":883.3},{"id":"q3j","s":"L10","x":284.3,"y":908.3}
]},"mark":{"type":"line","interpolate":"cardinal","strokeWidth":1.2},"encoding":{"detail":{"field":"id"},"order":{"value":null},"color":{"field":"s","type":"nominal","legend":null,"scale":{"domain":["C0/180","C90/270","3%","5%","10%","30%","50%","L1","L2","L3","L4","L5","L6","L7","L8","L9","L10"],"range":["#e8252d","#5fbb2e","#e8333d","#62bf35","#3f5fbf","#6fd0d0","#222222","#ef4444","#5cc83a","#2f50c0","#7fd6d6","#222222","#e4e040","#b040b8","#7a7a2a","#4a7ad0","#f07050"]}}}},
{"data":{"values":[
{"s":"C0/180","x":139.3,"y":511.7,"x2":145},{"s":"C90/270","x":139.3,"y":516.7,"x2":145},{"s":"C0/180","x":140.3,"y":732,"x2":145},{"s":"C90/270","x":140.3,"y":736.7,"x2":145},{"s":"C0/180","x":140.7,"y":956.3,"x2":145.7},{"s":"C90/270","x":140.7,"y":961,"x2":145.7},
{"s":"L1","x":215,"y":505.7,"x2":231.7},{"s":"L2","x":215,"y":510,"x2":231.7},{"s":"L3","x":215,"y":514.3,"x2":231.7},{"s":"L4","x":215,"y":518.7,"x2":231.7},{"s":"L5","x":215,"y":522.7,"x2":231.7},{"s":"L6","x":265,"y":505.7,"x2":280.7},{"s":"L7","x":265,"y":510,"x2":280.7},{"s":"L8","x":265,"y":514.3,"x2":280.7},{"s":"L9","x":265,"y":518.7,"x2":280.7},{"s":"L10","x":265,"y":522.7,"x2":280.7},
{"s":"L1","x":213,"y":726,"x2":228.7},{"s":"L2","x":213,"y":730.3,"x2":228.7},{"s":"L3","x":213,"y":734.7,"x2":228.7},{"s":"L4","x":213,"y":739,"x2":228.7},{"s":"L5","x":213,"y":743,"x2":228.7},{"s":"L6","x":262,"y":726,"x2":277.3},{"s":"L7","x":262,"y":730.3,"x2":277.3},{"s":"L8","x":262,"y":734.7,"x2":277.3},{"s":"L9","x":262,"y":739,"x2":277.3},{"s":"L10","x":262,"y":743,"x2":277.3},
{"s":"L1","x":214,"y":950,"x2":229.3},{"s":"L2","x":214,"y":954.3,"x2":229.3},{"s":"L3","x":214,"y":958.7,"x2":229.3},{"s":"L4","x":214,"y":963,"x2":229.3},{"s":"L5","x":214,"y":967,"x2":229.3},{"s":"L6","x":263.3,"y":950,"x2":278.7},{"s":"L7","x":263.3,"y":954.3,"x2":278.7},{"s":"L8","x":263.3,"y":958.7,"x2":278.7},{"s":"L9","x":263.3,"y":963,"x2":278.7},{"s":"L10","x":263.3,"y":967,"x2":278.7},
{"s":"3%","x":691.7,"y":402,"x2":700.7},{"s":"5%","x":691.7,"y":409,"x2":700.7},{"s":"10%","x":691.7,"y":416,"x2":700.7},{"s":"30%","x":691.7,"y":423.3,"x2":700.7},{"s":"50%","x":691.7,"y":431,"x2":700.7},
{"s":"3%","x":689.3,"y":623.3,"x2":698.7},{"s":"5%","x":689.3,"y":630.7,"x2":698.7},{"s":"10%","x":689.3,"y":637.3,"x2":698.7},{"s":"30%","x":689.3,"y":644.7,"x2":698.7},{"s":"50%","x":689.3,"y":652.3,"x2":698.7},
{"s":"3%","x":690.3,"y":846.7,"x2":698.7},{"s":"5%","x":690.3,"y":853.7,"x2":698.7},{"s":"10%","x":690.3,"y":861,"x2":698.7},{"s":"30%","x":690.3,"y":868.3,"x2":698.7},{"s":"50%","x":690.3,"y":875.7,"x2":698.7}
]},"mark":{"type":"rule","strokeWidth":1},"encoding":{"x2":{"field":"x2"},"color":{"field":"s","type":"nominal","legend":null,"scale":{"domain":["C0/180","C90/270","3%","5%","10%","30%","50%","L1","L2","L3","L4","L5","L6","L7","L8","L9","L10"],"range":["#e8252d","#5fbb2e","#e8333d","#62bf35","#3f5fbf","#6fd0d0","#222222","#ef4444","#5cc83a","#2f50c0","#7fd6d6","#222222","#e4e040","#b040b8","#7a7a2a","#4a7ad0","#f07050"]}}}},
{"data":{"values":[{"t":"LED LINEAR STRIP LIGHT (SP05)","x":22,"y":50}]},"mark":{"type":"text","align":"left","baseline":"middle","font":"Open Sans","fontWeight":700,"fontSize":30,"fill":"#231f20"},"encoding":{"text":{"field":"t"}}},
{"data":{"values":[{"t":"WATTAGES:","x":25,"y":94.5}]},"mark":{"type":"text","align":"left","baseline":"middle","font":"Open Sans","fontWeight":700,"fontSize":22,"fill":"white"},"encoding":{"text":{"field":"t"}}},
{"data":{"values":[{"t":"2FT/4FT/8FT, FROM 10W TO 150W","x":157,"y":94.5}]},"mark":{"type":"text","align":"left","baseline":"middle","font":"Open Sans","fontSize":21.7,"fill":"white"},"encoding":{"text":{"field":"t"}}},
{"data":{"values":[{"t":"ORDERING GUIDE:","x":23,"y":146}]},"mark":{"type":"text","align":"left","baseline":"middle","font":"Open Sans","fontWeight":700,"fontSize":16.7,"fill":"#231f20"},"encoding":{"text":{"field":"t"}}},
{"data":{"values":[{"t":"EXAMPLE:","x":23,"y":165}]},"mark":{"type":"text","align":"left","baseline":"middle","font":"Open Sans","fontSize":13.4,"fill":"#333333"},"encoding":{"text":{"field":"t"}}},
{"data":{"values":[{"t":"-SP05-4FT40W-H-xx-TCP-Y","x":38,"y":187.5}]},"mark":{"type":"text","align":"left","baseline":"middle","font":"Open Sans","fontSize":14,"fill":"#46507a"},"encoding":{"text":{"field":"t"}}},
{"data":{"values":[{"t":"SP05","x":153.6,"y":218},{"t":"4FT","x":214,"y":220},{"t":"40W","x":283,"y":218},{"t":"H","x":380,"y":218},{"t":"xx","x":492,"y":219},{"t":"TCP","x":603.5,"y":218},{"t":"Y","x":707,"y":219}]},"mark":{"type":"text","align":"center","baseline":"middle","font":"Open Sans","fontSize":13.5,"fill":"#333333"},"encoding":{"text":{"field":"t"}}},
{"data":{"values":[{"t":"PRODUCT","x":151.4,"y":250.5},{"t":"SIZE","x":214,"y":250.5},{"t":"POWER","x":283,"y":250.5},{"t":"HIGH LUMENS","x":380,"y":250.5},{"t":"INPUT VOLTAGE","x":492,"y":250.5},{"t":"Tunable CCT","x":603.5,"y":250.5},{"t":"and Power","x":603.5,"y":262},{"t":"CONTROL","x":707,"y":251.5},{"t":"Strip Light","x":151.4,"y":269.5},{"t":"Blank=120-277Vac","x":492,"y":269.7},{"t":"MV=120-347Vac","x":492,"y":280.3},{"t":"3500K","x":603.5,"y":281.3},{"t":"4000K","x":603.5,"y":292.3},{"t":"5000K","x":603.5,"y":304},{"t":"5700K","x":603.5,"y":315},{"t":"6500K","x":603.5,"y":326.3}]},"mark":{"type":"text","align":"center","baseline":"middle","font":"Open Sans","fontSize":10.5,"fill":"#333333"},"encoding":{"text":{"field":"t"}}},
{"data":{"values":[{"t":"2FT","x":213.8,"y":268},{"t":"4FT","x":213.8,"y":277.7},{"t":"8FT","x":213.8,"y":288},{"t":"20W: 20/15/10W","x":283,"y":268.3},{"t":"40W: 40/32/24W","x":283,"y":277.7},{"t":"50W: 50/40/30W","x":283,"y":287.7},{"t":"80W: 80/64/50W","x":283,"y":297.3},{"t":"50W: 50/40/30/25/20W","x":283,"y":306.7},{"t":"90W: 90/80/70/60/40W","x":283,"y":316.7},{"t":"100W: 100/90/80/60/40W","x":283,"y":325},{"t":"150W: 150/120/100/80/60W","x":288,"y":333.3}]},"mark":{"type":"text","align":"center","baseline":"middle","font":"Open Sans","fontSize":9,"fill":"#333333"},"encoding":{"text":{"field":"t"}}},
{"data":{"values":[{"t":"A = PIR sensor,","x":671,"y":269},{"t":"B = MS sensor,","x":671,"y":280},{"t":"C = BRT sensor,","x":671,"y":291.7},{"t":"D = PHB sensor,","x":671,"y":302.7},{"t":"blank = no provide sensor.","x":671,"y":314}]},"mark":{"type":"text","align":"left","baseline":"middle","font":"Open Sans","fontSize":9.5,"fill":"#333333"},"encoding":{"text":{"field":"t"}}},
{"data":{"values":[{"t":"DISTRIBUTION","x":26,"y":357}]},"mark":{"type":"text","align":"left","baseline":"middle","font":"Open Sans","fontWeight":700,"fontSize":16.8,"fill":"#231f20"},"encoding":{"text":{"field":"t"}}},
{"data":{"values":[{"t":"For complete IES files, please visit our website.","x":765.6,"y":351.3}]},"mark":{"type":"text","align":"right","baseline":"middle","font":"Liberation Sans","fontWeight":700,"fontStyle":"italic","fontSize":8.9,"fill":"#222222"},"encoding":{"text":{"field":"t"}}},
{"data":{"values":[{"t":"SS-SP05-2FT20W-H-TCP(XX)(20W, 5000K)","x":26,"y":372},{"t":"SS-SP05-4FT40W-H-TCP(XX)(40W, 5000K)","x":26,"y":591},{"t":"SS-SP05-4FT50W-H-TCP(XX)(50W, 5000K)","x":26,"y":817}]},"mark":{"type":"text","align":"left","baseline":"middle","font":"Open Sans","fontSize":8.9,"fill":"#444444"},"encoding":{"text":{"field":"t"}}},
{"data":{"values":[{"t":"LUMINOUS INTENSITY DISTRIBUTION DIAGRAM","x":109,"y":396.5},{"t":"LUMINOUS INTENSITY DISTRIBUTION DIAGRAM","x":107,"y":617},{"t":"LUMINOUS INTENSITY DISTRIBUTION DIAGRAM","x":111,"y":841}]},"mark":{"type":"text","align":"center","baseline":"middle","font":"Liberation Sans","fontWeight":700,"fontSize":5.4,"fill":"#111111"},"encoding":{"text":{"field":"t"}}},
{"data":{"values":[
{"t":"-/+180","x":109,"y":424.3},{"t":"-150","x":80.7,"y":430},{"t":"150","x":137.3,"y":430},{"t":"-120","x":62.7,"y":448.3},{"t":"120","x":155,"y":448.3},{"t":"-90","x":57.3,"y":474.3},{"t":"90","x":160,"y":473.3},{"t":"-60","x":62.3,"y":501.3},{"t":"60","x":154.3,"y":501.3},{"t":"-30","x":81.7,"y":519.3},{"t":"30","x":136.7,"y":519.3},{"t":"0","x":109.3,"y":525},{"t":"AVERAGE BEAM ANGLE(50%):114.0 DEG","x":109.3,"y":529.5},
{"t":"-/+180","x":109.3,"y":644},{"t":"-150","x":80,"y":651.7},{"t":"150","x":137.3,"y":651.7},{"t":"-120","x":62.7,"y":668.3},{"t":"120","x":155,"y":668.3},{"t":"-90","x":57.3,"y":694.3},{"t":"90","x":160.3,"y":694.3},{"t":"-60","x":63.7,"y":721.3},{"t":"60","x":154,"y":721.3},{"t":"-30","x":82.3,"y":739},{"t":"30","x":137,"y":739},{"t":"0","x":109.3,"y":744.5},{"t":"AVERAGE BEAM ANGLE(50%):119.9 DEG","x":108.3,"y":749.5},
{"t":"-/+180","x":110,"y":868.3},{"t":"-150","x":81,"y":875.7},{"t":"150","x":137.7,"y":875.7},{"t":"-120","x":63.3,"y":892.3},{"t":"120","x":156,"y":892.3},{"t":"-90","x":57.7,"y":918.7},{"t":"90","x":161,"y":918.7},{"t":"-60","x":64.3,"y":945.3},{"t":"60","x":154.7,"y":945.3},{"t":"-30","x":82.3,"y":963.3},{"t":"30","x":137,"y":963.3},{"t":"0","x":110,"y":969},{"t":"AVERAGE BEAM ANGLE(50%):120.1 DEG","x":109,"y":974},
{"t":"PLANAR ISOLUX DIAGRAM(UNIT:lx)","x":258,"y":394.7},{"t":"S(m)","x":210,"y":397.7},{"t":"C(DEG)","x":305.7,"y":397.7},{"t":"90","x":312.3,"y":404.3},{"t":"80","x":310.3,"y":421},{"t":"70","x":306.3,"y":438.3},{"t":"60","x":298.7,"y":453.3},{"t":"50","x":289,"y":467.3},{"t":"40","x":276,"y":479.3},{"t":"30","x":261.7,"y":489.3},{"t":"20","x":246.7,"y":496.7},{"t":"10","x":230,"y":500.3},{"t":"0","x":211.7,"y":502.7},{"t":"0","x":208.3,"y":402},{"t":"1","x":208.3,"y":434.3},{"t":"2","x":208.3,"y":467.3},{"t":"3","x":208.3,"y":500},{"t":"MH=1m","x":297.7,"y":496.3},
{"t":"600","x":247.7,"y":505.7},{"t":"530","x":247.7,"y":510},{"t":"450","x":247.7,"y":514.3},{"t":"380","x":247.7,"y":518.7},{"t":"300","x":247.7,"y":522.7},{"t":"230","x":296,"y":505.7},{"t":"75.0","x":296,"y":510},{"t":"38.0","x":296,"y":514.3},{"t":"23.0","x":296,"y":518.7},{"t":"7.50","x":296,"y":522.7},
{"t":"PLANAR ISOLUX DIAGRAM(UNIT:lx)","x":255.3,"y":614.3},{"t":"S(m)","x":206,"y":618.3},{"t":"C(DEG)","x":303.7,"y":618.3},{"t":"90","x":310,"y":624.3},{"t":"80","x":308.3,"y":641.3},{"t":"70","x":304,"y":658.3},{"t":"60","x":296.7,"y":673.3},{"t":"50","x":287,"y":687.3},{"t":"40","x":274,"y":699.3},{"t":"30","x":260,"y":709.3},{"t":"20","x":244.7,"y":716.7},{"t":"10","x":228,"y":721.3},{"t":"0","x":210,"y":722.7},{"t":"0","x":206,"y":622.3},{"t":"1","x":206,"y":654.3},{"t":"2","x":206,"y":687.3},{"t":"3","x":206,"y":720.3},{"t":"MH=1m","x":296.3,"y":716.3},
{"t":"1200","x":245.3,"y":726},{"t":"1000","x":245.3,"y":730.3},{"t":"880","x":245.3,"y":734.7},{"t":"780","x":245.3,"y":739},{"t":"590","x":245.3,"y":743},{"t":"480","x":293.3,"y":726},{"t":"150","x":293.3,"y":730.3},{"t":"74.0","x":293.3,"y":734.7},{"t":"44.0","x":293.3,"y":739},{"t":"15.0","x":293.3,"y":743},
{"t":"PLANAR ISOLUX DIAGRAM(UNIT:lx)","x":256,"y":838.3},{"t":"S(m)","x":209,"y":843.3},{"t":"C(DEG)","x":304.3,"y":843.3},{"t":"90","x":310.3,"y":848.7},{"t":"80","x":309,"y":865.7},{"t":"70","x":304.7,"y":882.3},{"t":"60","x":297.7,"y":897.3},{"t":"50","x":287.7,"y":911.3},{"t":"40","x":275,"y":923.3},{"t":"30","x":260.7,"y":933.3},{"t":"20","x":245.3,"y":940.7},{"t":"10","x":228.7,"y":945.3},{"t":"0","x":210.3,"y":946.7},{"t":"0","x":206.7,"y":846.7},{"t":"1","x":206.7,"y":879.3},{"t":"2","x":206.7,"y":911},{"t":"3","x":206.7,"y":944},{"t":"MH=1m","x":296.7,"y":941.3},
{"t":"1400","x":246,"y":950},{"t":"1200","x":246,"y":954.3},{"t":"1000","x":246,"y":958.7},{"t":"860","x":246,"y":963},{"t":"680","x":246,"y":967},{"t":"510","x":294.3,"y":950},{"t":"170","x":294.3,"y":954.3},{"t":"88.0","x":294.3,"y":958.7},{"t":"51.0","x":294.3,"y":963},{"t":"17.0","x":294.3,"y":967},
{"t":"105.0'","x":542.7,"y":395.7},{"t":"52.5'","x":573,"y":395.7},{"t":"0.0'","x":602,"y":395.7},{"t":"52.5'","x":631,"y":395.7},{"t":"105.0'","x":658.7,"y":395.7},{"t":"32.00m","x":544,"y":547.7},{"t":"16.00m","x":573,"y":547.7},{"t":"0.00m","x":602,"y":547.7},{"t":"16.00m","x":630.7,"y":547.7},{"t":"32.00m","x":659.3,"y":547.7},{"t":"MOUNTING HEIGHT: 33'(10.0m)","x":600.3,"y":554.3},
{"t":"105.0'","x":540.7,"y":616},{"t":"52.5'","x":568.7,"y":616},{"t":"0.0'","x":600,"y":616},{"t":"52.5'","x":629,"y":616},{"t":"105.0'","x":656.3,"y":616},{"t":"32.00m","x":539.7,"y":768.3},{"t":"16.00m","x":571,"y":768.3},{"t":"0.00m","x":600,"y":768.3},{"t":"16.00m","x":629,"y":768.3},{"t":"32.00m","x":658,"y":768.3},{"t":"MOUNTING HEIGHT: 33'(10.0m)","x":598.3,"y":775.3},
{"t":"105.0'","x":540.3,"y":840.7},{"t":"52.5'","x":570,"y":840.7},{"t":"0.0'","x":599.3,"y":840.7},{"t":"52.5'","x":628.3,"y":840.7},{"t":"105.0'","x":657,"y":840.7},{"t":"32.00m","x":542.3,"y":992.3},{"t":"16.00m","x":571.3,"y":992.3},{"t":"0.00m","x":600.3,"y":992.3},{"t":"16.00m","x":629.7,"y":992.3},{"t":"32.00m","x":658.7,"y":992.3},{"t":"MOUNTING HEIGHT: 33'(10.0m)","x":599,"y":998.3}
]},"mark":{"type":"text","align":"center","baseline":"middle","font":"Liberation Sans","fontSize":4.4,"fill":"#5f5a55"},"encoding":{"text":{"field":"t"}}},
{"data":{"values":[
{"t":"UNIT:cd","x":150,"y":507.3},{"t":"C0/180| 133.2","x":146,"y":511.7},{"t":"C90/270| 97.9","x":146,"y":516.7},{"t":"UNIT:cd","x":152,"y":727},{"t":"C0/180| 139.5","x":146,"y":732},{"t":"C90/270| 100.4","x":146,"y":736.7},{"t":"UNIT:cd","x":152,"y":951.3},{"t":"C0/180| 139.4","x":146.7,"y":956.3},{"t":"C90/270| 102.6","x":146.7,"y":961},
{"t":"40.00m","x":676,"y":399.3},{"t":"32.00m","x":676,"y":414},{"t":"24.00m","x":676,"y":428.3},{"t":"16.00m","x":676,"y":443},{"t":"8.00m","x":676,"y":457.3},{"t":"0.00m","x":676,"y":472},{"t":"8.00m","x":676,"y":486.3},{"t":"16.00m","x":676,"y":501},{"t":"24.00m","x":676,"y":515.3},{"t":"32.00m","x":676,"y":530},{"t":"40.00m","x":676,"y":544.3},
{"t":"40.00m","x":674,"y":620.3},{"t":"32.00m","x":674,"y":634.7},{"t":"24.00m","x":674,"y":649.3},{"t":"16.00m","x":674,"y":663.7},{"t":"8.00m","x":674,"y":678.3},{"t":"0.00m","x":674,"y":692.7},{"t":"8.00m","x":674,"y":707.3},{"t":"16.00m","x":674,"y":721.7},{"t":"24.00m","x":674,"y":736.3},{"t":"32.00m","x":674,"y":750.7},{"t":"40.00m","x":674,"y":765.3},
{"t":"40.00m","x":674.3,"y":844},{"t":"32.00m","x":674.3,"y":858.3},{"t":"24.00m","x":674.3,"y":872.7},{"t":"16.00m","x":674.3,"y":887.3},{"t":"8.00m","x":674.3,"y":901.7},{"t":"0.00m","x":674.3,"y":916},{"t":"8.00m","x":674.3,"y":930.7},{"t":"16.00m","x":674.3,"y":945},{"t":"24.00m","x":674.3,"y":959.7},{"t":"32.00m","x":674.3,"y":974},{"t":"40.00m","x":674.3,"y":988.3}
]},"mark":{"type":"text","align":"left","baseline":"middle","font":"Liberation Sans","fontSize":4.4,"fill":"#5f5a55"},"encoding":{"text":{"field":"t"}}},
{"data":{"values":[
{"t":"131.2'","x":526.7,"y":399.3},{"t":"105.0'","x":526.7,"y":414},{"t":"78.7'","x":526.7,"y":428.3},{"t":"52.5'","x":526.7,"y":443},{"t":"26.2'","x":526.7,"y":457.3},{"t":"0.0'","x":526.7,"y":472},{"t":"26.2'","x":526.7,"y":486.3},{"t":"52.5'","x":526.7,"y":501},{"t":"78.7'","x":526.7,"y":515.3},{"t":"105.0'","x":526.7,"y":530},{"t":"131.2'","x":526.7,"y":544.3},
{"t":"131.2'","x":525,"y":620.3},{"t":"105.0'","x":525,"y":634.7},{"t":"78.7'","x":525,"y":649.3},{"t":"52.5'","x":525,"y":663.7},{"t":"26.2'","x":525,"y":678.3},{"t":"0.0'","x":525,"y":692.7},{"t":"26.2'","x":525,"y":707.3},{"t":"52.5'","x":525,"y":721.7},{"t":"78.7'","x":525,"y":736.3},{"t":"105.0'","x":525,"y":750.7},{"t":"131.2'","x":525,"y":765.3},
{"t":"131.2'","x":525.7,"y":844},{"t":"105.0'","x":525.7,"y":858.3},{"t":"78.7'","x":525.7,"y":872.7},{"t":"52.5'","x":525.7,"y":887.3},{"t":"26.2'","x":525.7,"y":901.7},{"t":"0.0'","x":525.7,"y":916},{"t":"26.2'","x":525.7,"y":930.7},{"t":"52.5'","x":525.7,"y":945},{"t":"78.7'","x":525.7,"y":959.7},{"t":"105.0'","x":525.7,"y":974},{"t":"131.2'","x":525.7,"y":988.3},
{"t":"3% 0.2253lx 0.02091fc","x":745.7,"y":401},{"t":"5% 0.3754lx 0.03488fc","x":745.7,"y":408.3},{"t":"10% 0.7508lx 0.06976fc","x":745.7,"y":415.3},{"t":"30% 2.253lx 0.2093fc","x":745.7,"y":423.3},{"t":"50% 3.754lx 0.3488fc","x":745.7,"y":430.3},
{"t":"3% 0.4476lx 0.04158fc","x":743.3,"y":622.3},{"t":"5% 0.7460lx 0.06931fc","x":743.3,"y":629.3},{"t":"10% 1.492lx 0.1387fc","x":743.3,"y":636.3},{"t":"30% 4.476lx 0.4158fc","x":743.3,"y":643.7},{"t":"50% 7.460lx 0.6931fc","x":743.3,"y":651.7},
{"t":"3% 0.5033lx 0.04675fc","x":743.3,"y":845.3},{"t":"5% 0.8388lx 0.07793fc","x":743.3,"y":852.3},{"t":"10% 1.677lx 0.1558fc","x":743.3,"y":860},{"t":"30% 5.033lx 0.4675fc","x":743.3,"y":867.3},{"t":"50% 8.388lx 0.7793fc","x":743.3,"y":874.3}
]},"mark":{"type":"text","align":"right","baseline":"middle","font":"Liberation Sans","fontSize":4.4,"fill":"#5f5a55"},"encoding":{"text":{"field":"t"}}},
{"data":{"values":[
{"t":"Flux out:1887 lm","x":355,"y":399.7},{"t":"283.6,759.1 lx","x":356.7,"y":418.3},{"t":"70.91,189.9 lx","x":356.7,"y":430},{"t":"32.56,88.60 lx","x":356.7,"y":442.7},{"t":"18.21,47.97 lx","x":356.7,"y":455.3},{"t":"11.72,30.18 lx","x":356.7,"y":468},{"t":"8.135,20.92 lx","x":356.7,"y":480.3},{"t":"5.980,15.87 lx","x":356.7,"y":493},{"t":"4.578,11.77 lx","x":356.7,"y":505.3},{"t":"3.617,9.288 lx","x":356.7,"y":518},{"t":"2.930,7.581 lx","x":356.7,"y":530.7},
{"t":"Flux out:3637 lm","x":350,"y":619},{"t":"591.1,1486 lx","x":352.3,"y":637.7},{"t":"147.8,370.9 lx","x":352.3,"y":650},{"t":"65.68,165.0 lx","x":352.3,"y":662.7},{"t":"36.94,92.88 lx","x":352.3,"y":675},{"t":"23.64,59.72 lx","x":352.3,"y":687.7},{"t":"16.42,41.46 lx","x":352.3,"y":700.3},{"t":"12.06,30.47 lx","x":352.3,"y":712.7},{"t":"9.236,23.33 lx","x":352.3,"y":725.3},{"t":"7.298,18.43 lx","x":352.3,"y":738},{"t":"5.911,14.93 lx","x":352.3,"y":750.3},
{"t":"Flux out:5055 lm","x":353.3,"y":844.3},{"t":"833.4,1991 lx","x":354,"y":863.3},{"t":"155.4,452.7 lx","x":354,"y":874.7},{"t":"92.16,187.9 lx","x":354,"y":887.7},{"t":"35.99,100.7 lx","x":354,"y":900.7},{"t":"24.80,67.09 lx","x":354,"y":913},{"t":"17.23,46.59 lx","x":354,"y":925},{"t":"12.79,34.58 lx","x":354,"y":937.7},{"t":"9.729,26.48 lx","x":354,"y":950.3},{"t":"7.684,20.97 lx","x":354,"y":963},{"t":"6.224,16.91 lx","x":354,"y":975.3}
]},"mark":{"type":"text","align":"left","baseline":"middle","font":"Liberation Sans","fontWeight":700,"fontSize":5,"fill":"#111111"},"encoding":{"text":{"field":"t"}}},
{"data":{"values":[
{"t":"1m","x":354.7,"y":418.3},{"t":"2m","x":354.7,"y":430},{"t":"3m","x":354.7,"y":442.7},{"t":"4m","x":354.7,"y":455.3},{"t":"5m","x":354.7,"y":468},{"t":"6m","x":354.7,"y":480.3},{"t":"7m","x":354.7,"y":493},{"t":"8m","x":354.7,"y":505.3},{"t":"9m","x":354.7,"y":518},{"t":"10m","x":354.7,"y":530.7},
{"t":"233.45cm","x":481.7,"y":418.3},{"t":"466.89cm","x":481.7,"y":430},{"t":"700.34cm","x":481.7,"y":442.7},{"t":"933.79cm","x":481.7,"y":455.3},{"t":"1167.23cm","x":481.7,"y":468},{"t":"1400.68cm","x":481.7,"y":480.3},{"t":"1634.13cm","x":481.7,"y":493},{"t":"1867.58cm","x":481.7,"y":505.3},{"t":"2101.02cm","x":481.7,"y":518},{"t":"2334.47cm","x":481.7,"y":530.7},
{"t":"1m","x":350.7,"y":637.7},{"t":"2m","x":350.7,"y":650},{"t":"3m","x":350.7,"y":662.7},{"t":"4m","x":350.7,"y":675},{"t":"5m","x":350.7,"y":687.7},{"t":"6m","x":350.7,"y":700.3},{"t":"7m","x":350.7,"y":712.7},{"t":"8m","x":350.7,"y":725.3},{"t":"9m","x":350.7,"y":738},{"t":"10m","x":350.7,"y":750.3},
{"t":"238.88cm","x":477.7,"y":637.7},{"t":"477.76cm","x":477.7,"y":650},{"t":"716.63cm","x":477.7,"y":662.7},{"t":"955.51cm","x":477.7,"y":675},{"t":"1194.39cm","x":477.7,"y":687.7},{"t":"1433.26cm","x":477.7,"y":700.3},{"t":"1672.14cm","x":477.7,"y":712.7},{"t":"1911.02cm","x":477.7,"y":725.3},{"t":"2149.89cm","x":477.7,"y":738},{"t":"2388.77cm","x":477.7,"y":750.3},
{"t":"1m","x":352,"y":863.3},{"t":"2m","x":352,"y":874.7},{"t":"3m","x":352,"y":887.7},{"t":"4m","x":352,"y":900.7},{"t":"5m","x":352,"y":913},{"t":"6m","x":352,"y":925},{"t":"7m","x":352,"y":937.7},{"t":"8m","x":352,"y":950.3},{"t":"9m","x":352,"y":963},{"t":"10m","x":352,"y":975.3},
{"t":"252.46cm","x":479,"y":863.3},{"t":"504.93cm","x":479,"y":874.7},{"t":"757.39cm","x":479,"y":887.7},{"t":"1009.77cm","x":479,"y":900.7},{"t":"1262.31cm","x":479,"y":913},{"t":"1514.48cm","x":479,"y":925},{"t":"1767.03cm","x":479,"y":937.7},{"t":"2019.59cm","x":479,"y":950.3},{"t":"2271.97cm","x":479,"y":963},{"t":"2524.42cm","x":479,"y":975.3}
]},"mark":{"type":"text","align":"right","baseline":"middle","font":"Liberation Sans","fontWeight":700,"fontSize":5,"fill":"#111111"},"encoding":{"text":{"field":"t"}}},
{"data":{"values":[
{"t":"Height","x":345,"y":540.7},{"t":"Eavg, Emax","x":375,"y":540.7},{"t":"Angle=98.82deg","x":421.7,"y":540.7},{"t":"Diameter","x":471.7,"y":540.7},
{"t":"Height","x":342.3,"y":760},{"t":"Eavg, Emax","x":369.3,"y":760},{"t":"Angle=100.0deg","x":413.3,"y":760},{"t":"Diameter","x":465,"y":760},
{"t":"Height","x":344,"y":985},{"t":"Eavg, Emax","x":370,"y":985},{"t":"Angle=103.22deg","x":417.3,"y":985},{"t":"Diameter","x":471,"y":985}
]},"mark":{"type":"text","align":"center","baseline":"middle","font":"Liberation Sans","fontWeight":700,"fontSize":5,"fill":"#111111"},"encoding":{"text":{"field":"t"}}},
{"data":{"values":[
{"t":"Note:The Curves indicate the illuminated area and the average","x":395.3,"y":546.3},{"t":"illumination when the luminaire is at different distance.","x":395.3,"y":550.5},
{"t":"Note:The Curves indicate the illuminated area and the average","x":391.7,"y":765.7},{"t":"illumination when the luminaire is at different distance.","x":391.7,"y":769.9},
{"t":"Note:The Curves indicate the illuminated area and the average","x":395,"y":990.7},{"t":"illumination when the luminaire is at different distance.","x":395,"y":994.9}
]},"mark":{"type":"text","align":"center","baseline":"middle","font":"Liberation Sans","fontSize":4,"fill":"#8a80a0"},"encoding":{"text":{"field":"t"}}}
]}
